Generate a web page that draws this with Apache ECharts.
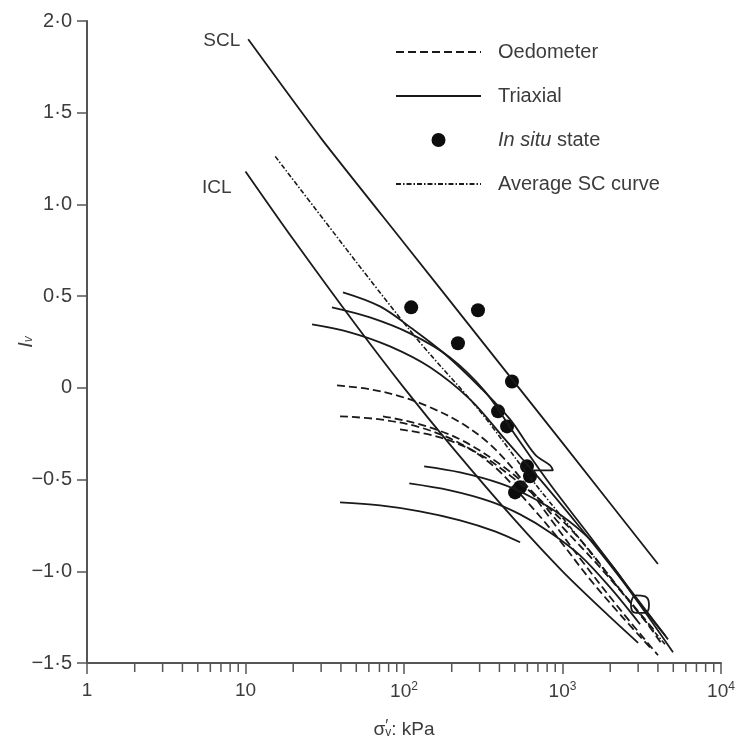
<!DOCTYPE html>
<html>
<head>
<meta charset="utf-8">
<script src="https://cdn.jsdelivr.net/npm/echarts@6/dist/echarts.min.js"></script>
<style>
  html, body { margin: 0; padding: 0; background: #fff; }
  #chart { width: 749px; height: 753px; }
</style>
</head>
<body>
<div id="chart"></div>
<script>
// Void index Iv against vertical effective stress (kPa, log scale)

// Reference lines
const sclLine = [[10.4, 1.90], [30, 1.36], [100, 0.79], [300, 0.27], [1000, -0.30], [4000, -0.96]];
const iclLine = [[10, 1.18], [20, 0.81], [50, 0.34], [100, 0.0], [200, -0.32], [500, -0.72], [1000, -1.0], [2000, -1.25], [3000, -1.39]];
const averageSC = [[15.4, 1.262], [62.9, 0.575], [126, 0.248], [302, -0.128], [624, -0.488], [1290, -0.826], [2669, -1.169], [4434, -1.398]];

// Oedometer compression curves
const oed1 = [[37.8, 0.014], [61, -0.008], [94.4, -0.046], [146, -0.106], [226, -0.188], [349, -0.308], [540, -0.488], [835, -0.711], [1347, -0.951], [2308, -1.208], [4006, -1.458]];
const oed2 = [[39.5, -0.155], [70.6, -0.172], [126, -0.215], [226, -0.303], [375, -0.433], [580, -0.608], [897, -0.799], [1492, -1.044], [2308, -1.235], [3569, -1.415]];
const oed3 = [[73.7, -0.155], [126, -0.199], [226, -0.281], [404, -0.417], [624, -0.553], [965, -0.744], [1726, -0.979], [3086, -1.235], [4246, -1.398]];
const oed4 = [[94.4, -0.226], [169, -0.270], [302, -0.363], [501, -0.499], [776, -0.635], [1290, -0.826], [2308, -1.099], [3835, -1.327]];

// Triaxial compression curves
const tri1 = [[41.2, 0.521], [70.6, 0.444], [114, 0.319], [182, 0.183], [302, 0.003], [467, -0.172], [670, -0.363], [835, -0.423], [871, -0.450], [642, -0.450]];
const tri2 = [[35.1, 0.439], [61, 0.384], [109, 0.297], [195, 0.166], [324, -0.019], [501, -0.254], [835, -0.526], [1492, -0.810], [2669, -1.099], [4630, -1.371]];
const tri3 = [[26.3, 0.346], [45.6, 0.303], [81.6, 0.226], [146, 0.112], [261, -0.063], [434, -0.281], [722, -0.499], [1290, -0.761], [2478, -1.071], [4980, -1.442]];
const tri4 = [[134, -0.428], [226, -0.461], [404, -0.521], [624, -0.592], [965, -0.690], [1492, -0.826], [2144, -0.989], [2866, -1.142], [4434, -1.349]];
const tri5 = [[108, -0.521], [195, -0.559], [349, -0.619], [540, -0.690], [835, -0.788], [1290, -0.913], [1996, -1.088], [3086, -1.289]];
const tri6 = [[39.5, -0.624], [70.6, -0.641], [126, -0.673], [226, -0.722], [375, -0.782], [540, -0.842]];
const triLoop = [[2705, -1.172], [2909, -1.131], [3314, -1.137], [3514, -1.183], [3314, -1.227], [2909, -1.227], [2705, -1.188], [2705, -1.172]];

// In situ states
const inSitu = [[111, 0.439], [293, 0.423], [219, 0.243], [480, 0.035], [392, -0.128], [447, -0.210], [597, -0.428], [624, -0.482], [540, -0.542], [502, -0.570]];

// Axis ticks
const xMajor = [1, 10, 100, 1000, 10000];
const xMajorLabels = ['1', '10', '10{sup|2}', '10{sup|3}', '10{sup|4}'];
const xMinor = [2, 3, 4, 5, 6, 7, 8, 9, 20, 30, 40, 50, 60, 70, 80, 90, 200, 300, 400, 500, 600, 700, 800, 900, 2000, 3000, 4000, 5000, 6000, 7000, 8000, 9000];
const Y_MIN = -1.5, Y_MAX = 2.0, Y_STEP = 0.5;

const INK = '#1a1a1a';
const AXIS = '#555';
const TEXT = '#3c3c3c';
const FONT = '"Liberation Sans", Arial, sans-serif';

function fmtY(v) {
  if (Math.abs(v) < 1e-9) return '0';
  const s = Math.abs(v).toFixed(1).replace('.', '\u00b7');
  return (v < 0 ? '\u2212' : '') + s;
}

function curve(name, data, type, width) {
  return {
    name: name, type: 'line', data: data, smooth: 0.35,
    symbol: 'none', silent: true, color: INK,
    itemStyle: { color: INK },
    lineStyle: { color: INK, width: width || 1.8, type: type || 'solid' }
  };
}

const OED_DASH = [8, 4];
const SC_DASH = [5, 2, 1.5, 2];

const chart = echarts.init(document.getElementById('chart'), null, { renderer: 'canvas' });

const series = [
  Object.assign(curve('SCL', sclLine), {
    smooth: 0.2,
    markPoint: {
      symbol: 'circle', symbolSize: 0, silent: true,
      label: { show: true, formatter: 'SCL', position: 'left', distance: 8, offset: [0, 1], color: TEXT, fontSize: 19, fontFamily: FONT },
      data: [{ coord: sclLine[0] }]
    }
  }),
  Object.assign(curve('ICL', iclLine), {
    smooth: 0.3,
    markPoint: {
      symbol: 'circle', symbolSize: 0, silent: true,
      label: { show: true, formatter: 'ICL', position: 'left', distance: 14, offset: [0, 16], color: TEXT, fontSize: 19, fontFamily: FONT },
      data: [{ coord: iclLine[0] }]
    }
  }),
  curve('Oedometer', oed1, OED_DASH),
  curve('Oedometer', oed2, OED_DASH),
  curve('Oedometer', oed3, OED_DASH),
  curve('Oedometer', oed4, OED_DASH),
  curve('Triaxial', tri1),
  curve('Triaxial', tri2),
  curve('Triaxial', tri3),
  curve('Triaxial', tri4),
  curve('Triaxial', tri5),
  curve('Triaxial', tri6),
  Object.assign(curve('Triaxial', triLoop), { smooth: 0.5 }),
  {
    name: 'In situ state', type: 'scatter', data: inSitu,
    symbol: 'circle', symbolSize: 14, silent: true, color: '#0d0d0d',
    itemStyle: { color: '#0d0d0d', opacity: 1 }
  },
  curve('Average SC curve', averageSC, SC_DASH, 1.6),
  {
    // minor ticks of the logarithmic stress axis
    name: 'minor', type: 'custom', coordinateSystem: 'cartesian2d',
    silent: true, clip: false, z: 1,
    data: xMinor.map(v => [v, Y_MIN]),
    renderItem: function (params, api) {
      const p = api.coord([api.value(0), api.value(1)]);
      return {
        type: 'line',
        shape: { x1: p[0], y1: p[1], x2: p[0], y2: p[1] + 9 },
        style: { stroke: AXIS, lineWidth: 1.5 }
      };
    }
  }
];

chart.setOption({
  animation: false,
  backgroundColor: '#fff',
  grid: { left: 87, right: 28, top: 21, bottom: 90, containLabel: false, outerBoundsMode: 'none' },
  legend: {
    data: [
      { name: 'Oedometer' },
      { name: 'Triaxial' },
      { name: 'In situ state', itemStyle: { opacity: 1 } },
      { name: 'Average SC curve' }
    ],
    orient: 'vertical', left: 395, top: 41, padding: 0,
    itemWidth: 85, itemHeight: 14, itemGap: 22,
    selectedMode: false,
    itemStyle: { opacity: 0 },
    textStyle: {
      color: TEXT, fontSize: 20, fontFamily: FONT, lineHeight: 22, padding: [0, 0, 0, 12],
      rich: { i: { fontStyle: 'italic', fontSize: 20, fontFamily: FONT, color: TEXT } }
    },
    formatter: function (n) { return n === 'In situ state' ? '{i|In situ} state' : n; }
  },
  xAxis: {
    type: 'log', logBase: 10, min: xMajor[0], max: xMajor[xMajor.length - 1],
    name: '{s|\u03c3}{p|\u2032}{v|v}{s|: kPa}',
    nameLocation: 'middle', nameGap: 56,
    nameTextStyle: {
      rich: {
        s: { fontSize: 19, fontFamily: FONT, color: TEXT },
        p: { fontSize: 16, fontFamily: FONT, color: TEXT, padding: [0, 0, 6, 0] },
        v: { fontSize: 12, fontFamily: FONT, color: TEXT, padding: [0, 0, -6, -3] }
      }
    },
    axisLine: { onZero: false, lineStyle: { color: AXIS, width: 2 } },
    axisTick: { show: true, length: 11, inside: false, lineStyle: { color: AXIS, width: 1.5 } },
    axisLabel: {
      margin: 18,
      formatter: function (v) {
        const i = xMajor.findIndex(m => Math.abs(Math.log10(m) - Math.log10(v)) < 1e-6);
        return i >= 0 ? xMajorLabels[i] : '';
      },
      color: TEXT, fontSize: 19, fontFamily: FONT,
      rich: { sup: { fontSize: 12, fontFamily: FONT, color: TEXT, padding: [0, 0, 9, 0] } }
    },
    splitLine: { show: false },
    minorTick: { show: false }
  },
  yAxis: {
    type: 'value', min: Y_MIN, max: Y_MAX, interval: Y_STEP,
    name: '{i|I}{v|v}', nameLocation: 'middle', nameGap: 51, nameRotate: 90,
    nameMoveOverlap: false,
    nameTextStyle: {
      rich: {
        i: { fontSize: 20, fontStyle: 'italic', fontFamily: FONT, color: TEXT },
        v: { fontSize: 12, fontStyle: 'italic', fontFamily: FONT, color: TEXT, padding: [0, 0, -6, 0] }
      }
    },
    axisLine: { show: true, onZero: false, lineStyle: { color: AXIS, width: 2 } },
    axisTick: { show: true, length: 10, inside: false, lineStyle: { color: AXIS, width: 1.5 } },
    axisLabel: { formatter: fmtY, margin: 15, color: TEXT, fontSize: 20, fontFamily: FONT },
    splitLine: { show: false }
  },
  series: series
});
</script>
</body>
</html>
